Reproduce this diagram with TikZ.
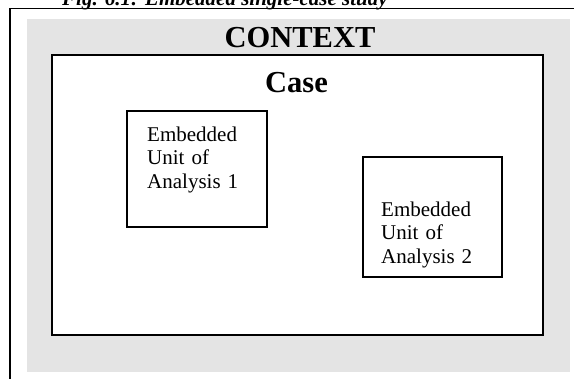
\documentclass[tikz,border=0pt]{standalone}
\usepackage{fontspec}
\setmainfont{Liberation Serif}
\usetikzlibrary{positioning}
\usepackage{xcolor}
\definecolor{ctxgray}{RGB}{228,228,228}

\begin{document}
\begin{tikzpicture}[x=1pt, y=-1pt,
  framebox/.style={draw=black, line width=1.4pt},
  unittext/.style={anchor=base west, inner sep=0, text width=110pt, align=left,
    font=\fontsize{21}{23.3}\selectfont},
  bigtitle/.style={anchor=base, inner sep=0, font=\fontsize{30.5}{34}\selectfont\bfseries}]
\useasboundingbox (0,0) rectangle (574,379);
% page frame and caption
\node[anchor=base west, inner sep=0, font=\fontsize{21}{24}\selectfont\bfseries\itshape] (caption) at (62,5.5) {Fig. 6.1: Embedded single-case study};
\coordinate (frameBL) at (10,380);
\coordinate (frameTR) at (575,8.5);
\draw[black, line width=1.6pt] (frameBL) |- (frameTR);
% context and case
\fill[ctxgray] (27,19) rectangle (570,372);
\node[bigtitle] (context) at (300,48) {CONTEXT};
\draw[framebox, fill=white] (52,55) rectangle (543,335);
\node[bigtitle] (case) at (296.5,93) {Case};
% embedded units
\draw[framebox, line width=1.2pt] (127,111) rectangle (267,227);
\node[unittext] (unitA) at (147,141.7) {Embedded\\Unit of\\Analysis 1};
\draw[framebox, line width=1.2pt] (363,157) rectangle (502,277);
\node[unittext] (unitB) at (381,216.7) {Embedded\\Unit of\\Analysis 2};
\end{tikzpicture}
\end{document}
